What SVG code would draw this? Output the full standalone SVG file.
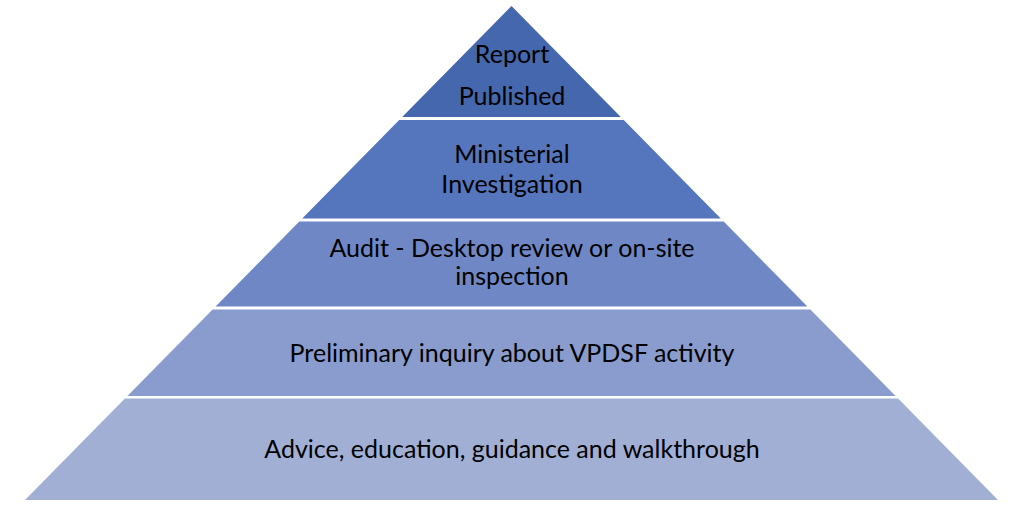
<svg xmlns="http://www.w3.org/2000/svg" width="1024" height="509" viewBox="0 0 1024 509">
<style>
.lbl{font-family:Lato,"Open Sans","Liberation Sans",sans-serif;font-size:25px;fill:#000;text-anchor:middle}
</style>
<rect width="1024" height="509" fill="#fff"/>
<g id="level5">
<polygon points="124.9,398.5 898.1,398.5 998,500 25,500" fill="#A2AFD5"/>
<text class="lbl" x="512" y="457.5">Advice, education, guidance and walkthrough</text>
</g>
<g id="level4">
<polygon points="212.6,309.5 810.4,309.5 895.6,396 127.4,396" fill="#899CCD"/>
<text class="lbl" x="512" y="361.5">Preliminary inquiry about VPDSF activity</text>
</g>
<g id="level3">
<polygon points="299.3,221.5 723.7,221.5 807.4,306.5 215.6,306.5" fill="#6F88C5"/>
<text class="lbl" x="512" y="256.5">Audit - Desktop review or on-site</text>
<text class="lbl" x="512" y="285">inspection</text>
</g>
<g id="level2">
<polygon points="399.2,120 623.8,120 720.8,218.5 302.2,218.5" fill="#5575BD"/>
<text class="lbl" x="512" y="163">Ministerial</text>
<text class="lbl" x="512" y="193">Investigation</text>
</g>
<g id="level1">
<polygon points="511.5,6 620.8,117 402.2,117" fill="#4567AE"/>
<text class="lbl" x="512" y="63">Report</text>
<text class="lbl" x="512" y="105">Published</text>
</g>
<g id="connectors"/>
</svg>
